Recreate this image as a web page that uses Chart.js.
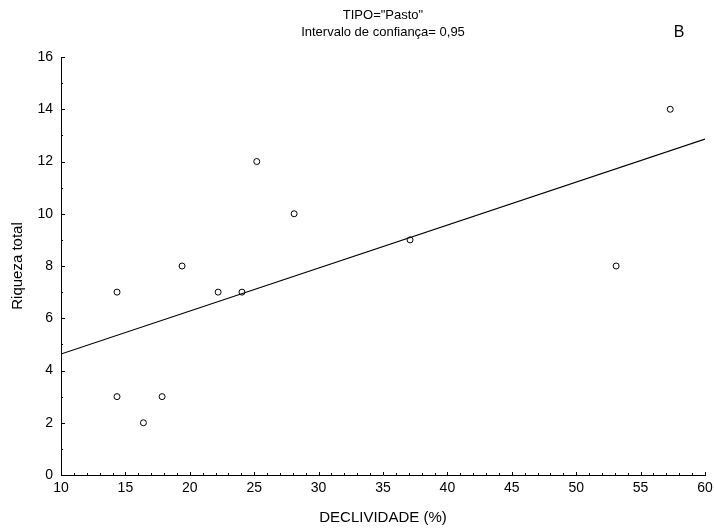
<!DOCTYPE html>
<html>
<head>
<meta charset="utf-8">
<script src="https://cdn.jsdelivr.net/npm/chart.js@4"></script>
<style>
	html, body { margin: 0; padding: 0; background: #fff; }
	#wrap { width: 714px; height: 530px; }
</style>
</head>
<body>
<div id="wrap"><canvas id="scatterChart" width="714" height="530"></canvas></div>
<script>
// data
var declividade = [25.2, 28.1, 19.4, 14.35, 22.2, 24.05, 37.1, 14.35, 17.85, 16.4, 53.1, 57.3];
var riqueza = [12, 10, 8, 7, 7, 7, 9, 3, 3, 2, 8, 14];
var fitX = [10, 60];
var fitY = [4.63, 12.86];
var xTicks = [10, 15, 20, 25, 30, 35, 40, 45, 50, 55, 60];
var yTicks = [0, 2, 4, 6, 8, 10, 12, 14, 16];
var titleLines = ['TIPO="Pasto"', 'Intervalo de confiança= 0,95'];
var panelLetter = 'B';

var font = 'Liberation Sans, Arial, sans-serif';

var points = declividade.map(function (x, i) { return { x: x, y: riqueza[i] }; });
var fitLine = fitX.map(function (x, i) { return { x: x, y: fitY[i] }; });

// inward ticks, titles and panel letter
var decorations = {
	id: 'decorations',
	afterDraw(chart) {
		var ctx = chart.ctx;
		var area = chart.chartArea;
		var xs = chart.scales.x;
		var ys = chart.scales.y;
		ctx.save();
		ctx.strokeStyle = '#000';
		ctx.lineWidth = 1;
		ctx.beginPath();
		for (var v = 10; v <= 60; v++) {
			var px = Math.round(xs.getPixelForValue(v)) + 0.5;
			var len = (v % 5 === 0) ? 3 : 2;
			ctx.moveTo(px, area.bottom);
			ctx.lineTo(px, area.bottom - len);
		}
		for (var w = 0; w <= 16; w++) {
			var py = Math.round(ys.getPixelForValue(w)) + 0.5;
			var l = (w % 2 === 0) ? 4 : 2;
			ctx.moveTo(area.left, py);
			ctx.lineTo(area.left + l, py);
		}
		ctx.stroke();

		ctx.fillStyle = '#000';
		ctx.textAlign = 'center';
		ctx.textBaseline = 'middle';
		ctx.font = '13px ' + font;
		var cx = (area.left + area.right) / 2;
		ctx.fillText(titleLines[0], cx, 15);
		ctx.fillText(titleLines[1], cx, 32);
		ctx.font = '16px ' + font;
		ctx.fillText(panelLetter, 679, 33);
		ctx.restore();
	}
};

var ctx = document.getElementById('scatterChart');
var theChart = new Chart(ctx, {
	type: 'scatter',
	data: {
		datasets: [
			{
				label: 'Ajuste',
				data: fitLine,
				showLine: true,
				borderColor: '#000',
				borderWidth: 1.2,
				pointRadius: 0,
				fill: false
			},
			{
				label: 'Riqueza total',
				data: points,
				pointRadius: 3,
				pointBorderWidth: 1,
				pointBorderColor: '#000',
				pointBackgroundColor: '#fff',
				showLine: false
			}
		]
	},
	options: {
		responsive: false,
		animation: false,
		layout: { padding: { top: 57, right: 0, left: 0, bottom: 0 } },
		plugins: {
			legend: { display: false },
			tooltip: { enabled: false }
		},
		scales: {
			x: {
				type: 'linear',
				min: 10,
				max: 60,
				afterFit(scale) {
					scale.height = 55;
					scale.paddingRight = 9;
					scale.paddingLeft = 0;
				},
				afterBuildTicks(scale) { scale.ticks = xTicks.map(function (v) { return { value: v }; }); },
				border: { display: true, color: '#000', width: 1 },
				grid: { display: false, drawTicks: false },
				ticks: {
					color: '#000',
					padding: 5,
					maxRotation: 0,
					autoSkip: false,
					font: { family: font, size: 14 }
				},
				title: {
					display: true,
					text: 'DECLIVIDADE (%)',
					color: '#000',
					padding: { top: 0, bottom: 3 },
					font: { family: font, size: 15 }
				}
			},
			y: {
				type: 'linear',
				min: 0,
				max: 16,
				afterFit(scale) { scale.width = 61; },
				afterBuildTicks(scale) { scale.ticks = yTicks.map(function (v) { return { value: v }; }); },
				border: { display: true, color: '#000', width: 1 },
				grid: { display: false, drawTicks: false },
				ticks: {
					color: '#000',
					padding: 8,
					autoSkip: false,
					font: { family: font, size: 14 }
				},
				title: {
					display: true,
					text: 'Riqueza total',
					color: '#000',
					padding: { top: 9, bottom: 0 },
					font: { family: font, size: 15 }
				}
			}
		}
	},
	plugins: [decorations]
});
</script>
</body>
</html>
